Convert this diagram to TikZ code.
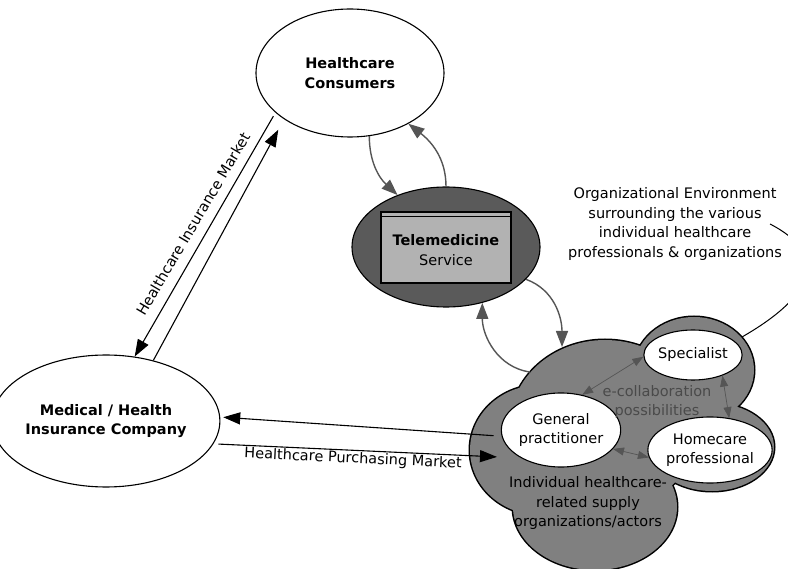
\documentclass[tikz,border=0pt]{standalone}
\usepackage{fontspec}
\setmainfont{DejaVu Sans}
\usetikzlibrary{shapes.geometric,arrows.meta}
\definecolor{cloudgray}{HTML}{808080}
\definecolor{teledark}{HTML}{5A5A5A}
\definecolor{boxgray}{HTML}{B2B2B2}
\definecolor{arrgray}{HTML}{555555}
\definecolor{ecolab}{HTML}{4A4A4A}
\begin{document}
\begin{tikzpicture}[x=1pt,y=-1pt,
  txt/.style={font=\fontsize{14.5}{19.5}\selectfont, align=center},
  ell/.style={ellipse, draw, line width=1.1pt, fill=white, inner sep=0pt, txt},
  blk/.style={line width=1.1pt, -{Triangle[length=17pt,width=12pt]}},
  garr/.style={line width=1.4pt, draw=arrgray, -{Triangle[length=16pt,width=12pt]}},
  darr/.style={line width=0.7pt, draw=arrgray, {Triangle[length=11pt,width=8pt]}-{Triangle[length=11pt,width=8pt]}},
]
\clip (0,0) rectangle (788,569);
\fill[white] (0,0) rectangle (788,569);

% cloud: outline pass then fill pass
\draw[line width=3pt]
  (540,450) ellipse [x radius=70pt, y radius=65pt]
  (605,425) ellipse [x radius=95pt, y radius=85pt]
  (694,370) ellipse [x radius=60pt, y radius=53pt]
  (712,447) ellipse [x radius=62pt, y radius=44pt]
  (595,507) ellipse [x radius=82pt, y radius=63pt];
\fill[cloudgray]
  (540,450) ellipse [x radius=70pt, y radius=65pt]
  (605,425) ellipse [x radius=95pt, y radius=85pt]
  (694,370) ellipse [x radius=60pt, y radius=53pt]
  (712,447) ellipse [x radius=62pt, y radius=44pt]
  (595,507) ellipse [x radius=82pt, y radius=63pt];
\coordinate (cloudA) at (562,347);
\coordinate (cloudB) at (530,372);
\coordinate (envstart) at (770,224);
\coordinate (envend) at (742,337);

% nodes
\node[ell, minimum width=188pt, minimum height=128pt] (cons) at (350,73)
  {\textbf{Healthcare}\\\textbf{Consumers}};
\node[ell, minimum width=188pt, minimum height=132pt] (med) at (106,421)
  {\textbf{Medical / Health}\\\textbf{Insurance Company}};
\node[ellipse, draw, line width=1.1pt, fill=teledark, minimum width=188pt,
  minimum height=120pt, inner sep=0pt] (tele) at (446,247) {};
\node[draw, line width=1.1pt, fill=boxgray, minimum width=130pt,
  minimum height=71pt, inner sep=0pt] (tbox) at (446,247.5) {};
\draw[line width=1.1pt] ([yshift=-5pt]tbox.north west) -- ([yshift=-5pt]tbox.north east);
\node[txt] (tlabel) at (446,250) {\textbf{Telemedicine}\\Service};

\node[ell, minimum width=88pt, minimum height=50pt] (spec) at (693,355) {Specialist};
\node[ell, minimum width=106pt, minimum height=74pt] (gp) at (561,430) {General\\practitioner};
\node[ell, minimum width=114pt, minimum height=66pt] (home) at (710,450) {Homecare\\professional};

\node[txt, text=ecolab] (ecol) at (657,402) {e-collaboration\\possibilities};
\node[txt] (indiv) at (588,503) {Individual healthcare-\\related supply\\organizations/actors};
\node[txt] (orgenv) at (675,224) {Organizational Environment\\surrounding the various\\individual healthcare\\professionals \& organizations};

\node[txt, rotate=59.5] (insm) at (193,224) {Healthcare Insurance Market};
\node[txt, rotate=-2.7] (purm) at (353,459) {Healthcare Purchasing Market};

% black connectors
\draw[blk, shorten <=4pt] (cons.208) -- (med.66);
\draw[blk, shorten >=12pt] (med.52) -- (cons.215);
\draw[blk, shorten <=8pt, shorten >=3pt] (gp.186) -- (med.2);
\draw[blk, shorten <=5pt, shorten >=24pt] (med.-12) -- (gp.215);

% gray curved connectors
\draw[garr] (cons.-73) to[out=-90,in=137] (tele.133);
\draw[garr] (tele.90) to[out=90,in=-38] (cons.-41);
\draw[garr] (tele.-22) to[out=-20,in=90] (cloudA);
\draw[garr] (cloudB) to[out=172,in=-90] (tele.-57);

% e-collaboration double arrows
\draw[darr] (spec.182) -- (gp.59);
\draw[darr] (spec.-35) -- (home.59);
\draw[darr] (gp.-20) -- (home.187);

% environment pointer
\draw[line width=1pt] (envstart) .. controls (830,255) and (815,295) .. (envend);
\end{tikzpicture}
\end{document}
